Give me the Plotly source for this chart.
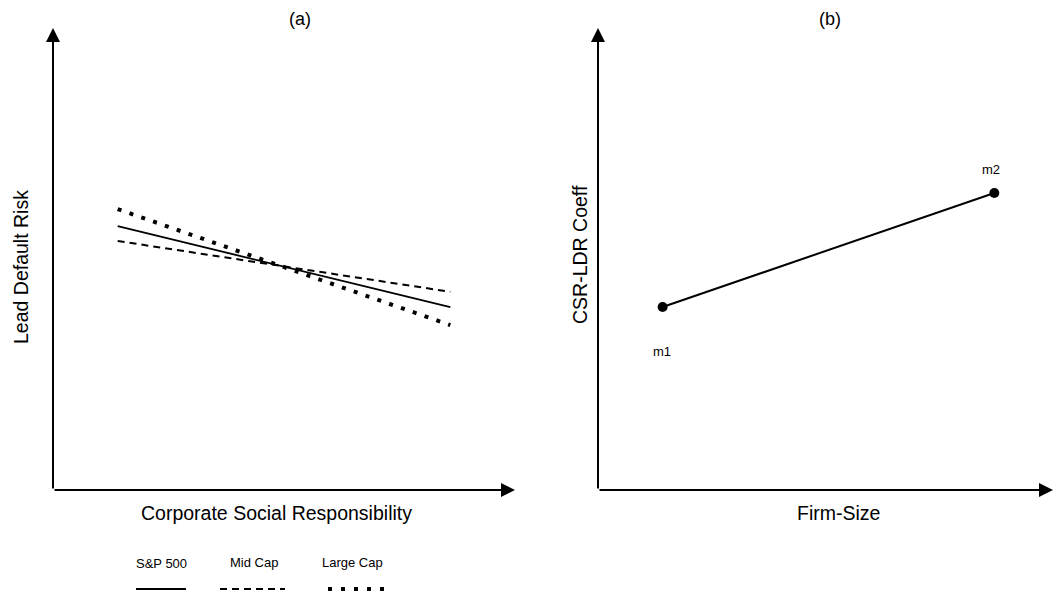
import plotly.graph_objects as go

# ---- data ----
csr_x = [1.4, 8.6]
sp500_y = [5.71, 3.96]
midcap_y = [5.39, 4.29]
largecap_y = [6.08, 3.57]

size_x = [1.42, 8.71]
coeff_y = [3.96, 6.43]
size_labels = ["m1", "m2"]

legend_names = ["S&P 500", "Mid Cap", "Large Cap"]

W, H = 1053, 592
FONT = "Liberation Sans, Arial, sans-serif"

fig = go.Figure()

fig.add_trace(go.Scatter(x=csr_x, y=sp500_y, mode="lines", name=legend_names[0],
                         line=dict(color="black", width=1.8), xaxis="x", yaxis="y"))
fig.add_trace(go.Scatter(x=csr_x, y=midcap_y, mode="lines", name=legend_names[1],
                         line=dict(color="black", width=2, dash="7px,5px"), xaxis="x", yaxis="y"))
fig.add_trace(go.Scatter(x=csr_x, y=largecap_y, mode="lines", name=legend_names[2],
                         line=dict(color="black", width=4, dash="4px,8.5px"), xaxis="x", yaxis="y"))

fig.add_trace(go.Scatter(x=size_x, y=coeff_y, mode="lines+markers",
                         line=dict(color="black", width=2),
                         marker=dict(color="black", size=10),
                         xaxis="x2", yaxis="y2"))

def px(x):
    return x / W

def py(y):
    return 1 - y / H

ax_common = dict(showgrid=False, zeroline=False, showticklabels=False, ticks="", showline=False, fixedrange=True)
fig.update_layout(
    width=W, height=H,
    margin=dict(l=0, r=0, t=0, b=0),
    paper_bgcolor="white", plot_bgcolor="white",
    showlegend=False,
    xaxis=dict(domain=[px(53), px(515)], range=[0, 10], **ax_common),
    yaxis=dict(domain=[py(490), py(28)], range=[0, 10], **ax_common),
    xaxis2=dict(domain=[px(598), 1.0], range=[0, 10], anchor="y2", **ax_common),
    yaxis2=dict(domain=[py(490), py(28)], range=[0, 10], anchor="x2", **ax_common),
)

annotations = []
# axis arrows
for xd, yd in (("x domain", "y domain"), ("x2 domain", "y2 domain")):
    annotations.append(dict(x=1, y=0, ax=0, ay=0, xref=xd, yref=yd, axref=xd, ayref=yd,
                            showarrow=True, arrowhead=2, arrowsize=1.4, arrowwidth=2,
                            arrowcolor="black", text=""))
    annotations.append(dict(x=0, y=1, ax=0, ay=0, xref=xd, yref=yd, axref=xd, ayref=yd,
                            showarrow=True, arrowhead=2, arrowsize=1.4, arrowwidth=2,
                            arrowcolor="black", text=""))

# point labels
annotations.append(dict(x=size_x[0], y=coeff_y[0], xref="x2", yref="y2", text=size_labels[0],
                        showarrow=False, yshift=-44, xshift=-1,
                        font=dict(family=FONT, size=13, color="black")))
annotations.append(dict(x=size_x[1], y=coeff_y[1], xref="x2", yref="y2", text=size_labels[1],
                        showarrow=False, yshift=23, xshift=-3,
                        font=dict(family=FONT, size=13, color="black")))

def txt(t, x, y, size=16, angle=0):
    return dict(text=t, x=px(x), y=py(y), xref="paper", yref="paper", showarrow=False,
                xanchor="center", yanchor="middle", textangle=angle,
                font=dict(family=FONT, size=size, color="black"))

annotations += [
    txt("(a)", 300, 19, 18),
    txt("(b)", 830, 19, 18),
    txt("Corporate Social Responsibility", 276, 513, 19.5),
    txt("Firm-Size", 838, 513, 19.5),
    txt("Lead Default Risk", 21, 267, 19.5, -90),
    txt("CSR-LDR Coeff", 580, 255, 19.5, -90),
    txt(legend_names[0], 161, 563, 13),
    txt(legend_names[1], 254, 562, 13),
    txt(legend_names[2], 352, 562, 13),
]

shapes = [
    dict(type="line", xref="paper", yref="paper", x0=px(136), x1=px(186), y0=py(589), y1=py(589),
         line=dict(color="black", width=2)),
    dict(type="line", xref="paper", yref="paper", x0=px(220), x1=px(285), y0=py(589), y1=py(589),
         line=dict(color="black", width=2, dash="7px,5px")),
    dict(type="line", xref="paper", yref="paper", x0=px(328), x1=px(386), y0=py(589), y1=py(589),
         line=dict(color="black", width=4, dash="4px,9px")),
]

fig.update_layout(annotations=annotations, shapes=shapes)

fig.write_html("out.html", config={"displayModeBar": False},
               post_script="document.body.style.margin='0';document.body.style.overflow='hidden';")
